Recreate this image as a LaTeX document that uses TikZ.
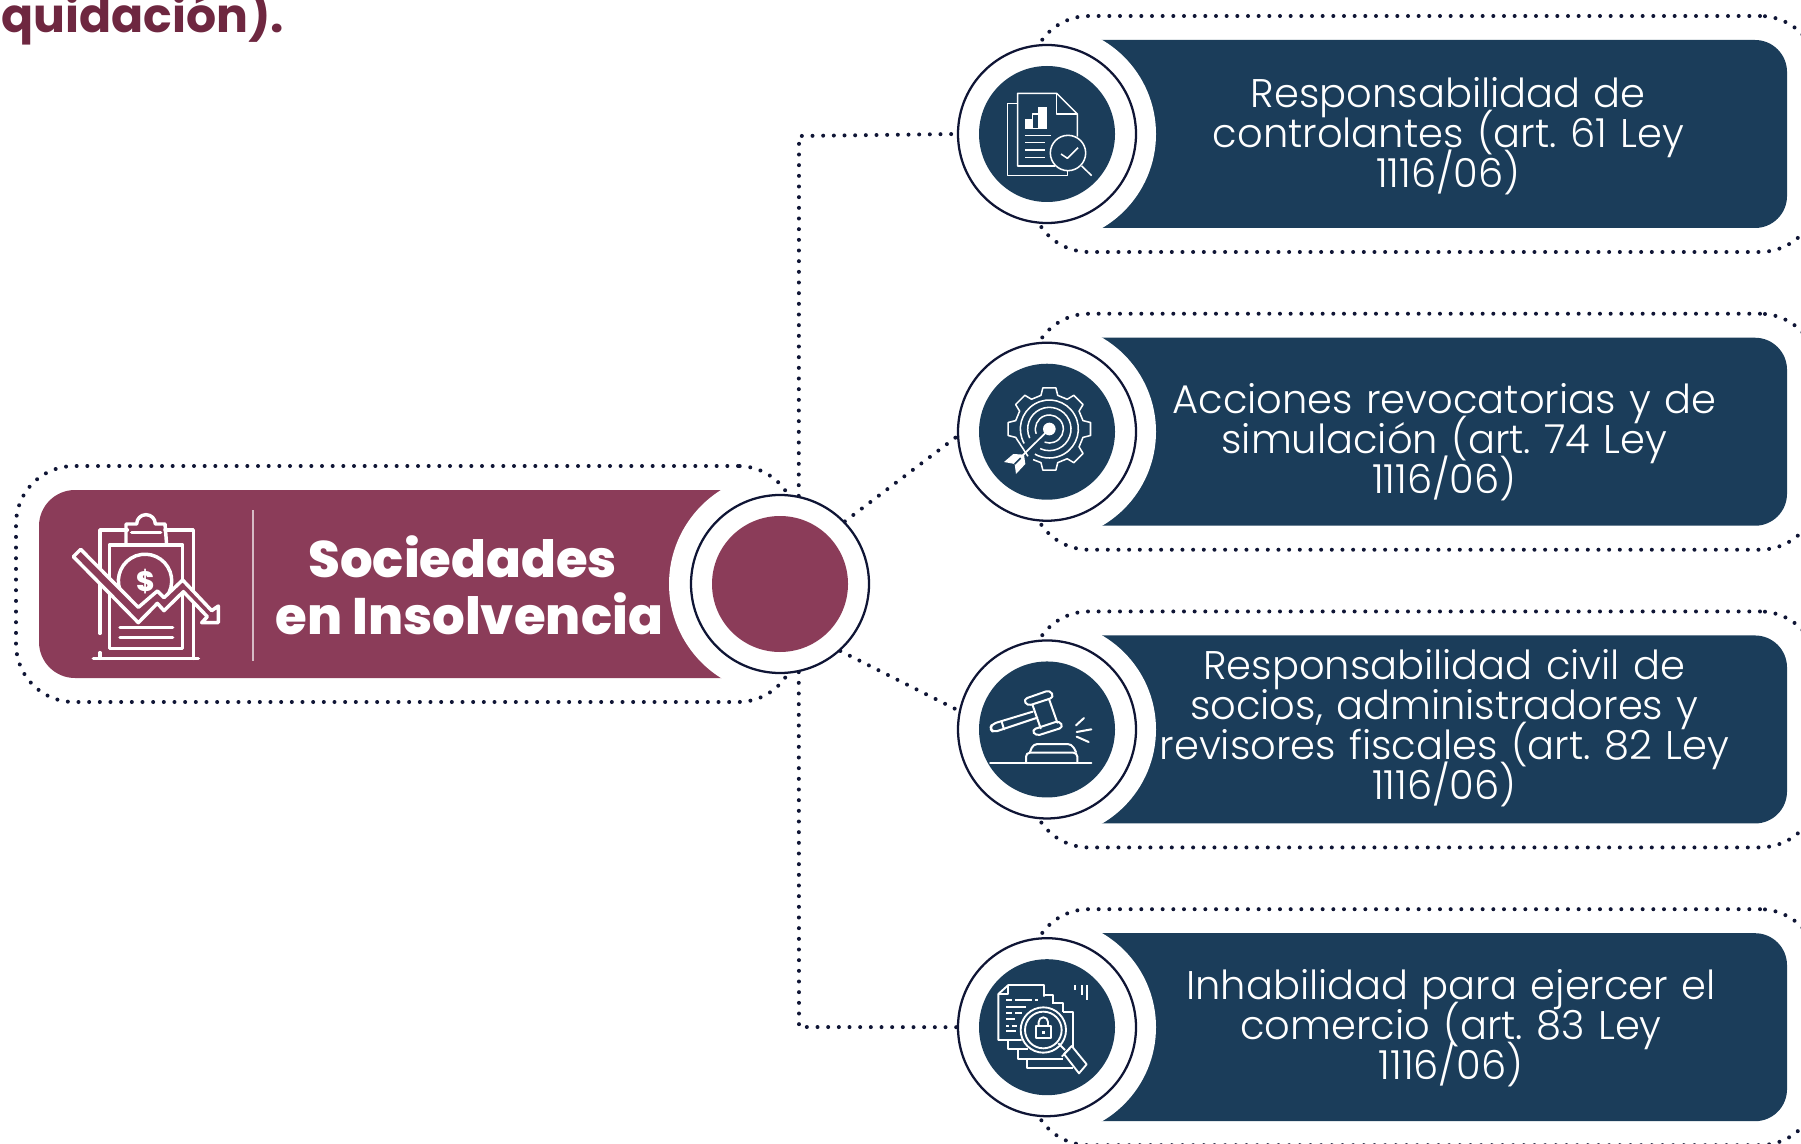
\documentclass[tikz,border=0pt]{standalone}
\usepackage{fontspec}
\usetikzlibrary{positioning}
\setmainfont{Poppins}
\newfontfamily\lightfont{Poppins}[UprightFont=* Light]
\newfontfamily\heavyfont{Poppins}[UprightFont=* ExtraBold]
\newfontfamily\boldfont{Poppins}[UprightFont=* Bold]
\definecolor{wine}{HTML}{8B3C59}
\definecolor{winedark}{HTML}{6E2740}
\definecolor{navy}{HTML}{1B3D5A}
\definecolor{inky}{HTML}{0F1535}
\begin{document}
\begin{tikzpicture}
[x=0.75pt,y=-0.75pt,node distance=223.3pt,on grid,
deck/.style={fill=navy,minimum width=590pt,minimum height=141pt,rounded corners=24pt,inner sep=0pt},
halo/.style={circle,fill=white,minimum size=163.5pt,inner sep=0pt},
dotframe/.style={draw=inky,line width=3pt,line cap=round,dash pattern=on 0pt off 8pt,minimum width=590.25pt,minimum height=177pt,rounded corners=43.5pt,inner sep=0pt},
dots/.style={draw=inky,line width=3pt,line cap=round,dash pattern=on 0pt off 8pt},
ring/.style={circle,draw=inky,line width=1.7pt,fill=white,minimum size=133.5pt,inner sep=0pt},
hole/.style={circle,fill=navy,minimum size=102pt,inner sep=0pt},
rowtext/.style={text=white,align=center,font=\lightfont\fontsize{30}{30}\selectfont,execute at begin node={\lineskiplimit=-60pt\frenchspacing},text width=480pt},
iconview/.style n args={2}{shift={(#1,#2)},x=0.25pt,y=-0.25pt,draw=white,line join=round},
thin line/.style={line width=1.15pt},
gavel line/.style={line width=1.5pt,line cap=round,rounded corners=3pt}]
\path[use as bounding box,clip] (0,0) rectangle (1801,1144);

\node[anchor=base west,text=winedark,font=\boldfont\fontsize{35.5}{38}\selectfont,inner sep=0pt] (cue) at (1,33) {quidación).};

\coordinate (p1) at (1047,134);
\coordinate[below=of p1] (p2);
\coordinate[below=of p2] (p3);
\coordinate[below=of p3] (p4);

\node[deck,right=260pt of p1,anchor=center] (d1) {};
\node[deck,right=260pt of p2,anchor=center] (d2) {};
\node[deck,right=260pt of p3,anchor=center] (d3) {};
\node[deck,right=260pt of p4,anchor=center] (d4) {};
\node[deck,fill=wine,minimum width=540.75pt,rounded corners=27pt] (main) at (399.5,584) {};

\node[halo] (h1) at (p1) {};
\node[halo] (h2) at (p2) {};
\node[halo] (h3) at (p3) {};
\node[halo] (h4) at (p4) {};
\node[halo,minimum size=166.5pt] (h0) at (780,584) {};

\node[dotframe,right=283.1pt of p1,anchor=center] (f1) {};
\node[dotframe,right=283.1pt of p2,anchor=center] (f2) {};
\node[dotframe,right=283.1pt of p3,anchor=center] (f3) {};
\node[dotframe,right=283.1pt of p4,anchor=center] (f4) {};
\node[dotframe,minimum width=585pt] (f0) at (406,584) {};

\node[ring] (r1) at (p1) {};
\node[ring] (r2) at (p2) {};
\node[ring] (r3) at (p3) {};
\node[ring] (r4) at (p4) {};
\node[ring] (hub) at (780,584) {};
\node[hole] at (r1) (c1) {};
\node[hole] at (r2) (c2) {};
\node[hole] at (r3) (c3) {};
\node[hole] at (r4) (c4) {};
\node[hole,fill=wine] at (hub) (c0) {};

\coordinate (elbowa) at (799,136);
\coordinate (elbowb) at (799,1027);
\draw[dots] (hub.78) -- (elbowa) -- (r1.west);
\draw[dots] (hub.282) -- (elbowb) -- (r4.west);
\draw[dots] (hub.44) -- (r2.183);
\draw[dots] (hub.312) -- (r3.168);

\node[rowtext,right=301pt of p1,anchor=center,yshift=-2pt] (t1) {Responsabilidad de\\controlantes (art. 61 Ley\\1116/06)};
\node[rowtext,right=298pt of p2,anchor=center,yshift=-8pt] (t2) {Acciones revocatorias y de\\simulación (art. 74 Ley\\1116/06)};
\node[rowtext,right=298pt of p3,anchor=center,yshift=1pt] (t3) {Responsabilidad civil de\\socios, administradores y\\revisores fiscales (art. 82 Ley\\1116/06)};
\node[rowtext,right=303pt of p4,anchor=center,yshift=-1pt] (t4) {Inhabilidad para ejercer el\\comercio (art. 83 Ley\\1116/06)};
\node[text=white,align=center,font=\heavyfont\fontsize{38.5}{43}\selectfont] (t0) at (466,585.5) {Sociedades\hspace*{5pt}\\\hspace*{5pt}en Insolvencia};

% divider in the main box
\draw[draw=white!65!wine,line width=1.5pt] (253,510) -- (253,661);

% report under the lens
\begin{scope}[iconview={930}{0},thin line]
\draw (262,310) -- (233,310) -- (233,527) -- (412,527) -- (412,498);
\draw (375,498) -- (263,498) -- (263,280) -- (380,280) -- (442,342) -- (442,410);
\draw (380,280) -- (380,342) -- (442,342);
\fill[white] (285,358) rectangle (307,386);
\draw (307,386) -- (307,342) -- (327,342);
\fill[white] (325,322) rectangle (350,386);
\draw (285,386) -- (350,386);
\draw (285,406) -- (362,406);
\draw (285,428) -- (345,428);
\draw (285,450) -- (345,450);
\draw (285,472) -- (345,472);
\draw[fill=navy] (414,459) circle (53);
\draw (455,498) -- (485,527);
\draw (393,462) -- (412,475) -- (444,443);
\end{scope}

% gear and dart
\begin{scope}[iconview={930}{310},thin line]
\begin{scope}[shift={(358,357)}]
\draw (128:104) -- (166:104) -- (171:125) -- (189:125) -- (194:104)
 -- (211:104) -- (216:125) -- (234:125) -- (239:104)
 -- (256:104) -- (261:125) -- (279:125) -- (284:104)
 -- (301:104) -- (306:125) -- (324:125) -- (329:104)
 -- (346:104) -- (351:125) -- (9:125) -- (14:104)
 -- (31:104) -- (36:125) -- (54:125) -- (59:104)
 -- (76:104) -- (81:125) -- (99:125) -- (104:104) -- (118:104);
\draw (150:87) arc[start angle=150,end angle=480,radius=87];
\draw (155:65) arc[start angle=155,end angle=475,radius=65];
\draw (160:42) arc[start angle=160,end angle=470,radius=42];
\fill[white] (0,0) circle (19);
\end{scope}
\draw[line width=1.3pt] (350,365) -- (262,452);
\fill[white] (222,456) -- (250,432) -- (282,434) -- (286,462) -- (258,492) -- (254,462) -- cycle;
\draw[navy,thin line] (254,462) -- (272,444);
\end{scope}

% gavel
\begin{scope}[iconview={930}{620},gavel line]
\draw (280,238) -- (360,210) -- (372,232) -- (292,258) -- cycle;
\draw (305,330) -- (388,302) -- (400,322) -- (318,348) -- cycle;
\draw (308,256) -- (332,325);
\draw (358,240) -- (382,308);
\draw (308,275) -- (186,312) -- (180,326) -- (190,337) -- (322,293);
\draw (215,305) -- (222,328);
\draw (438,316) -- (462,294);
\draw (440,336) -- (484,328);
\draw (440,350) -- (476,366);
\draw (180,430) -- (484,430);
\draw (288,428) -- (288,398) -- (442,398) -- (442,428);
\draw (300,396) -- (310,372) -- (425,372) -- (438,396);
\end{scope}

% locked papers
\begin{scope}[iconview={930}{900},line width=1.4pt]
\draw (342,290) -- (342,255) -- (235,255) -- (205,282) -- (205,420) -- (275,420);
\draw (235,255) -- (235,282) -- (205,282);
\draw (342,285) -- (370,285) -- (370,312);
\draw (235,420) -- (235,448) -- (295,448);
\draw (370,310) -- (400,310) -- (400,335);
\draw (265,448) -- (265,478) -- (400,478);
\draw (400,337) -- (430,337) -- (430,440);
\draw (290,478) -- (290,505) -- (430,505);
\draw (228,300) -- (246,300);
\draw (255,300) -- (305,300);
\draw (315,300) -- (325,300);
\draw (228,320) -- (288,320);
\draw (228,338) -- (245,338);
\draw (255,338) -- (275,338);
\draw (228,358) -- (255,358);
\draw (228,377) -- (238,377);
\draw (245,377) -- (260,377);
\draw (228,392) -- (258,392);
\draw[fill=navy] (340,390) circle (68);
\draw (340,390) circle (55);
\draw (317,378) rectangle (363,415);
\draw (326,378) -- (326,366) arc[start angle=180,end angle=360,radius=14] -- (354,378);
\fill[white] (335,393) rectangle (345,403);
\draw (385,430) -- (405,450);
\draw[fill=navy] (402,462) -- (425,438) -- (470,493) -- (447,520) -- cycle;
\draw (395,470) -- (420,445);
\draw (435,255) -- (435,270);
\draw (455,255) -- (455,285);
\draw (472,255) -- (472,300);
\end{scope}

% clipboard with falling line
\begin{scope}[iconview={50}{490},line width=2.6pt,line cap=round]
\draw (150,430) -- (150,120) -- (232,120);
\draw (345,120) -- (430,120) -- (430,505);
\draw (130,505) -- (445,505);
\draw (150,488) -- (150,505);
\draw (228,165) -- (228,102) -- (260,102) arc[start angle=180,end angle=360,radius=28] -- (345,102) -- (350,165);
\draw (245,128) -- (332,128);
\draw (178,475) -- (178,165) -- (398,165) -- (398,475) -- cycle;
\draw (210,300) arc[start angle=160,end angle=385,radius=80];
\draw (210,412) -- (368,412);
\draw (210,442) -- (368,442);
\draw[fill=wine,line width=2.6pt] (70,200) -- (92,178) -- (265,352) -- (322,303) -- (342,323) -- (398,270) -- (485,362) -- (505,348) -- (505,398) -- (455,398) -- (472,380) -- (400,305) -- (342,362) -- (322,340) -- (265,398) -- cycle;
\node[text=white,font=\heavyfont\fontsize{21}{21}\selectfont,inner sep=0pt] (coin) at (288,275) {\$};
\end{scope}
\end{tikzpicture}
\end{document}
